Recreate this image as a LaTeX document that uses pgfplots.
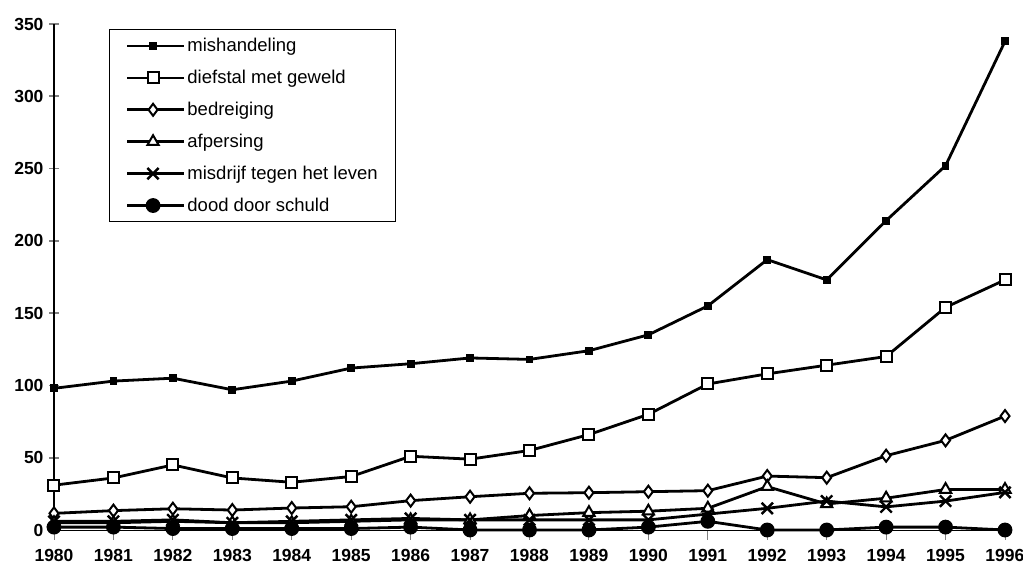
\documentclass[border=0pt]{standalone}
\usepackage{pgfplots}
\pgfplotsset{compat=1.18}
\usepackage{fontspec}
\setmainfont{Liberation Sans}
\begin{document}
\begin{tikzpicture}
\begin{axis}[
  scale only axis, width=951pt, height=506pt,
  xmin=1980, xmax=1996, ymin=0, ymax=350,
  axis x line=bottom, axis y line=left,
  axis line style={-, line width=1.8pt},
  x axis line style={line width=0.8pt},
  xtick={1980,...,1996},
  xticklabels={1980,1981,1982,1983,1984,1985,1986,1987,1988,1989,1990,1991,1992,1993,1994,1995,1996},
  ytick={0,50,...,350},
  /pgf/number format/assume math mode=true,
  tick label style={font=\fontsize{17.5}{17.5}\selectfont\bfseries},
  y tick label style={xshift=-2pt},
  x tick label style={yshift=-6pt},
  ytick align=center, xtick align=outside,
  major tick length=10pt,
  x tick style={line width=0.8pt},
  y tick style={line width=1.8pt},
  clip=false,
  legend style={at={(0.058,0.99)}, anchor=north west, draw=black, line width=1pt,
    font=\fontsize{18.5}{18.5}\selectfont, inner xsep=16pt, inner ysep=7pt, row sep=13pt,
    cells={anchor=west}},
  legend cell align=left,
  legend image code/.code={\path (0pt,0pt) -- (57pt,0pt);\draw[mark repeat=2,mark phase=2,#1] plot coordinates {(0pt,0pt)(26pt,0pt)(52pt,0pt)};},
]
\addplot[black, line width=2.8pt, mark=square*, mark size=2.5pt] coordinates {
(1980,98)(1981,103)(1982,105)(1983,97)(1984,103)(1985,112)(1986,115)(1987,119)(1988,118)(1989,124)(1990,135)(1991,155)(1992,187)(1993,173)(1994,214)(1995,252)(1996,338)};
\addlegendentry{mishandeling}
\addplot[black, line width=2.8pt, mark=square*, mark size=5.5pt, mark options={fill=white, line width=2pt}] coordinates {
(1980,31)(1981,36)(1982,45)(1983,36)(1984,33)(1985,37)(1986,51)(1987,49)(1988,55)(1989,66)(1990,80)(1991,101)(1992,108)(1993,114)(1994,120)(1995,154)(1996,173)};
\addlegendentry{diefstal met geweld}
\addplot[black, line width=2.8pt, mark=diamond*, mark size=6pt, mark options={fill=white, line width=2pt}] coordinates {
(1980,11.5)(1981,13.4)(1982,14.7)(1983,13.8)(1984,15.2)(1985,16.1)(1986,20.3)(1987,23)(1988,25.4)(1989,25.8)(1990,26.5)(1991,27.2)(1992,37.3)(1993,36.2)(1994,51.4)(1995,62)(1996,78.8)};
\addlegendentry{bedreiging}
\addplot[black, line width=2.8pt, mark=triangle*, mark size=6.5pt, mark options={fill=white, line width=2pt}] coordinates {
(1980,5)(1981,5)(1982,6)(1983,5)(1984,5)(1985,6)(1986,7)(1987,7)(1988,10)(1989,12)(1990,13)(1991,15)(1992,30)(1993,18)(1994,22)(1995,28)(1996,28)};
\addlegendentry{afpersing}
\addplot[black, line width=2.8pt, mark=x, mark size=8pt, mark options={line width=2.4pt}] coordinates {
(1980,6)(1981,6)(1982,7)(1983,5)(1984,6)(1985,7)(1986,8)(1987,7)(1988,7)(1989,7)(1990,7)(1991,11)(1992,15)(1993,20)(1994,16)(1995,20)(1996,26)};
\addlegendentry{misdrijf tegen het leven}
\addplot[black, line width=2.8pt, mark=*, mark size=6pt] coordinates {
(1980,2)(1981,2)(1982,1)(1983,1)(1984,1)(1985,1)(1986,2)(1987,0)(1988,0)(1989,0)(1990,2)(1991,6)(1992,0)(1993,0)(1994,2)(1995,2)(1996,0)};
\addlegendentry{dood door schuld}
\end{axis}
\pgfresetboundingbox
\path (-54pt,-42pt) rectangle (969pt,530pt);
\end{tikzpicture}
\end{document}
